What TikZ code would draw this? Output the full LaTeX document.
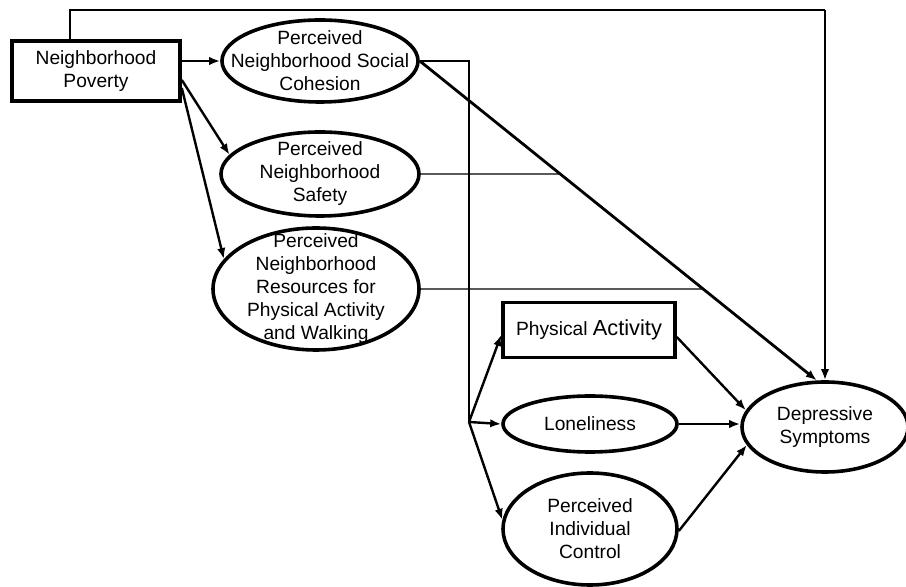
\documentclass[tikz,border=0pt]{standalone}
\usepackage{fontspec}
\setmainfont{Liberation Sans}
\usetikzlibrary{shapes.geometric,arrows.meta}
\tikzset{
    boxthk/.style={draw,line width=1.8pt,inner sep=0pt,align=center,font=\fontsize{9.6}{11.5}\selectfont},
    ovl/.style={ellipse,draw,line width=1.8pt,inner sep=0pt},
    lbl/.style={align=center,font=\fontsize{9.6}{11.5}\selectfont},
    arr/.style={-{Latex[length=5.5pt,width=4.2pt]},line width=1.2pt},
    thinln/.style={line width=0.7pt}
}

\begin{document}
\begin{tikzpicture}[x=0.5pt,y=-0.5pt]
        \useasboundingbox (0,0) rectangle (906,587);
        %---
        \node[boxthk,minimum width=84pt,minimum height=30pt] (pov) at (96,71) {Neighborhood\\Poverty};
        \node[ovl,minimum width=98pt,minimum height=41pt,label={[lbl]center:Perceived\\Neighborhood Social\\Cohesion}] (coh) at (320,61) {};
        \node[ovl,minimum width=99pt,minimum height=42pt,label={[lbl]center:Perceived\\Neighborhood\\Safety}] (saf) at (320,174) {};
        \node[ovl,minimum width=103pt,minimum height=61pt,label={[lbl]center:Perceived\\Neighborhood\\Resources for\\Physical Activity\\and Walking}] (res) at (316,289) {};

        \node[boxthk,minimum width=86pt,minimum height=27.5pt] (pa) at (589,330) {Physical {\fontsize{10.9}{13}\selectfont Activity}};
        \node[ovl,minimum width=87pt,minimum height=28pt,label={[lbl]center:Loneliness}] (lon) at (590,424) {};
        \node[ovl,minimum width=87pt,minimum height=56pt,label={[lbl]center:Perceived\\Individual\\Control}] (ctl) at (590,529) {};
        \node[ovl,minimum width=83pt,minimum height=45pt,label={[lbl]center:Depressive\\Symptoms}] (ds) at (825,427) {};

        %--- helper points
        \coordinate (br) at (469,422);
        \coordinate (top-y) at (0,10);
        \coordinate (top-l) at ([shift={(-26,0)}]pov.north);
        \coordinate (diag-s) at (coh.east);
        \coordinate (diag-e) at (ds.100);
        \coordinate (saf-r) at (saf.east -| ds.center);
        \coordinate (res-r) at (res.east -| ds.center);

        %--- thin lines
        \draw[thinln] (top-l) |- (ds.north |- top-y);
        \draw[thinln] (coh.east) -| (br);
        \draw[thinln] (saf.east) -- (intersection of diag-s--diag-e and saf.east--saf-r);
        \draw[thinln] (res.east) -- (intersection of diag-s--diag-e and res.east--res-r);

        %--- arrows
        \draw[arr] (pov.east |- coh.west) -- (coh.west);
        \draw[arr] ([shift={(0,9)}]pov.east) -- (saf.168);
        \draw[arr] ([shift={(0,17)}]pov.east) -- (res.162);
        \draw[arr,line width=1.4pt] (diag-s) -- (diag-e);
        \draw[arr] (ds.north |- top-y) -- (ds.north);

        \draw[arr] (br) -- ([shift={(0,5)}]pa.west);
        \draw[arr] (br) -- (lon.west);
        \draw[arr] (br) -- (ctl.174);

        \draw[arr] ([shift={(0,7)}]pa.east) -- (ds.168);
        \draw[arr] (lon.east) -- (lon.east -| ds.west);
        \draw[arr] ([shift={(0,2)}]ctl.east) -- (ds.193);
\end{tikzpicture}
\end{document}
